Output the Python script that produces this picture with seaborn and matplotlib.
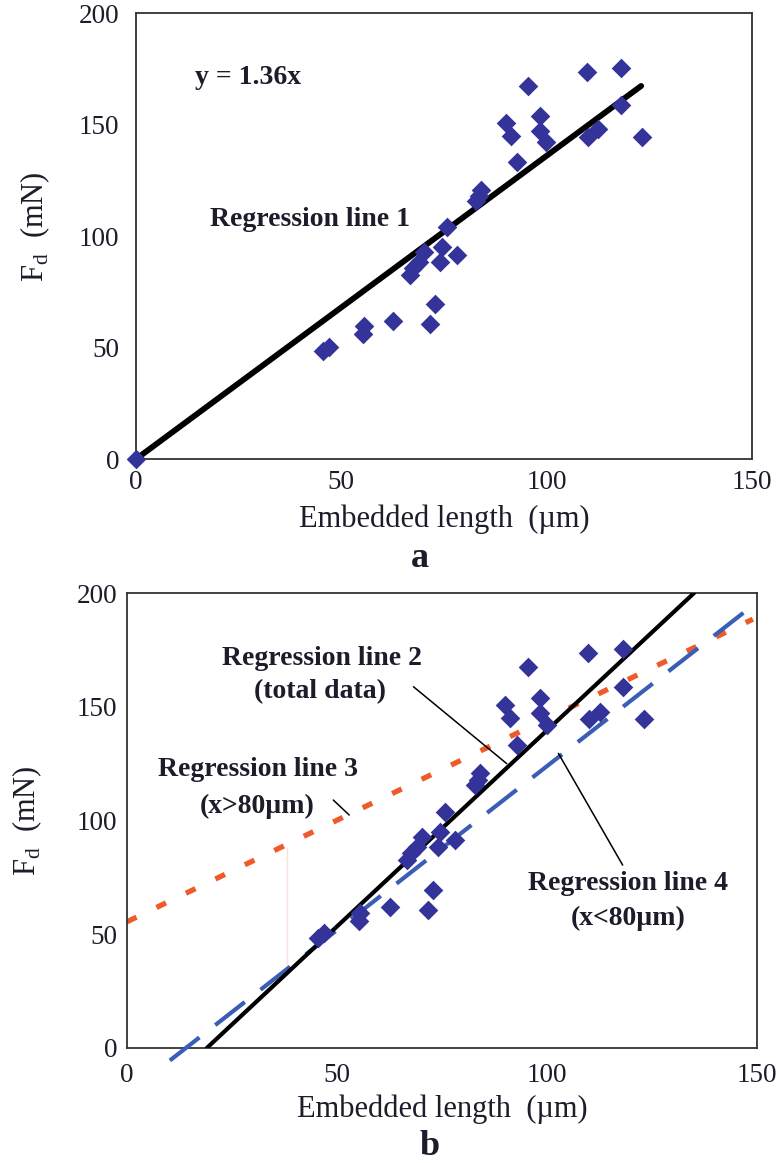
import matplotlib
matplotlib.use("Agg")
import matplotlib.pyplot as plt
import seaborn as sns
import pandas as pd

# ---------------- data ----------------
emb_len = [45.5, 47.0, 55.3, 55.5, 62.6, 71.7, 72.9, 66.6, 67.5, 69.0, 70.2,
           74.1, 74.5, 75.7, 78.1, 82.9, 83.5, 84.0, 90.0, 91.2, 92.8, 95.5,
           98.3, 98.3, 99.9, 109.8, 110.0, 112.6, 118.0, 118.0, 123.1]
force = [48.5, 50.4, 56.0, 59.5, 62.1, 60.7, 69.4, 82.6, 85.5, 88.5, 92.9,
         88.5, 95.0, 103.9, 91.4, 115.6, 118.0, 120.7, 150.8, 144.9, 133.2, 167.3,
         153.7, 147.1, 142.0, 173.5, 144.5, 147.8, 175.3, 158.8, 144.5]

# regression lines (end points)
rl1_x, rl1_y = [0, 123], [0, 167.3]            # y = 1.36x
rl2_x, rl2_y = [19, 135], [0, 200]             # total data
rl3_x, rl3_y = [0, 149], [55.5, 188.5]         # x > 80 um
rl4_x, rl4_y = [10.2, 148], [-5.5, 193.1]      # x < 80 um
guide_x, guide_y = [38, 38], [33, 88.5]        # thin red guide line

x_ticks = [0, 50, 100, 150]
y_ticks = [0, 50, 100, 150, 200]

# ---------------- style ----------------
sns.set_style("white")
plt.rcParams["font.family"] = ["Liberation Serif", "DejaVu Serif"]
plt.rcParams["mathtext.fontset"] = "custom"
plt.rcParams["mathtext.rm"] = "Liberation Serif"

MARK = "#333399"
RED = "#EE5A2C"
BLUE = "#3A5DB5"
TXT = "#1c1c2a"

fig = plt.figure(figsize=(7.76, 11.63), dpi=100)
ax1 = fig.add_axes([0.1753, 0.6053, 0.7938, 0.3835])
ax2 = fig.add_axes([0.1637, 0.0989, 0.8119, 0.3912])

df = pd.DataFrame({"x": emb_len, "y": force})
df_top = pd.concat([pd.DataFrame({"x": [0.0], "y": [0.0]}), df], ignore_index=True)


def style_axes(ax, xpad, ypad):
    ax.set_xlim(0, 150)
    ax.set_ylim(0, 200)
    ax.set_xticks(x_ticks)
    ax.set_yticks(y_ticks)
    ax.tick_params(axis="both", direction="in", labelsize=19.5, colors="#333333",
                   labelcolor=TXT, width=1.2)
    ax.tick_params(axis="y", length=7, pad=ypad)
    ax.tick_params(axis="x", length=5, pad=xpad)
    for s in ax.spines.values():
        s.set_visible(True)
        s.set_color("#333333")
        s.set_linewidth(1.3)
    ax.set_xlabel("Embedded length  (\u00b5m)", fontsize=22, color=TXT)
    ax.set_ylabel("F$_\\mathregular{d}$  (mN)", fontsize=22, color=TXT,
                  va="center", ha="center")


# ---------------- panel a ----------------
sns.lineplot(x=rl1_x, y=rl1_y, ax=ax1, color="black", lw=4.2, sort=False,
             solid_capstyle="round", zorder=3)
sns.scatterplot(data=df_top, x="x", y="y", ax=ax1, marker="D", s=100,
                color=MARK, linewidth=0, zorder=4, clip_on=False)
style_axes(ax1, xpad=8, ypad=12)
ax1.xaxis.set_label_coords(0.5, -0.103)
ax1.yaxis.set_label_coords(-0.164, 0.52)
ax1.text(14.4, 171.3, "y = 1.36x", fontsize=20, fontweight="bold",
         ha="left", va="center", color=TXT)
ax1.text(18, 107.2, "Regression line 1", fontsize=20, fontweight="bold",
         ha="left", va="center", color=TXT)

# ---------------- panel b ----------------
sns.lineplot(x=rl3_x, y=rl3_y, ax=ax2, color=RED, lw=3.8, sort=False,
             dashes=(2, 4.2), zorder=2)
sns.lineplot(x=guide_x, y=guide_y, ax=ax2, color="#E8604A", lw=0.7,
             sort=False, zorder=2)
sns.lineplot(x=rl4_x, y=rl4_y, ax=ax2, color=BLUE, lw=3.0, sort=False,
             dashes=(9, 4.8), zorder=3, clip_on=False)
sns.lineplot(x=rl2_x, y=rl2_y, ax=ax2, color="black", lw=3.0, sort=False,
             zorder=4)
sns.scatterplot(data=df, x="x", y="y", ax=ax2, marker="D", s=100,
                color=MARK, linewidth=0, zorder=5, clip_on=False)
style_axes(ax2, xpad=11, ypad=7)
ax2.xaxis.set_label_coords(0.5, -0.103)
ax2.yaxis.set_label_coords(-0.159, 0.5)

ann = dict(fontsize=20, fontweight="bold", ha="center", va="center", color=TXT)
ax2.text(46.5, 171.4, "Regression line 2", **ann)
ax2.text(46.0, 156.6, "(total data)", **ann)
ax2.text(31.2, 122.2, "Regression line 3", **ann)
ax2.text(30.9, 106.1, "(x>80\u00b5m)", **ann)
ax2.text(119.3, 72.5, "Regression line 4", **ann)
ax2.text(119.3, 57.1, "(x<80\u00b5m)", **ann)

leader = dict(color="black", lw=1.1, zorder=6)
ax2.plot([68.2, 90.4], [158.8, 125.0], **leader)
ax2.plot([49.1, 52.9], [109.0, 102.4], **leader)
ax2.plot([102.7, 118.0], [129.5, 80.4], **leader)

fig.text(0.541, 0.520, "a", fontsize=26, fontweight="bold", ha="center",
         va="center", color=TXT)
fig.text(0.554, 0.014, "b", fontsize=26, fontweight="bold", ha="center",
         va="center", color=TXT)

fig.savefig("out.png", dpi=100, facecolor="white")
